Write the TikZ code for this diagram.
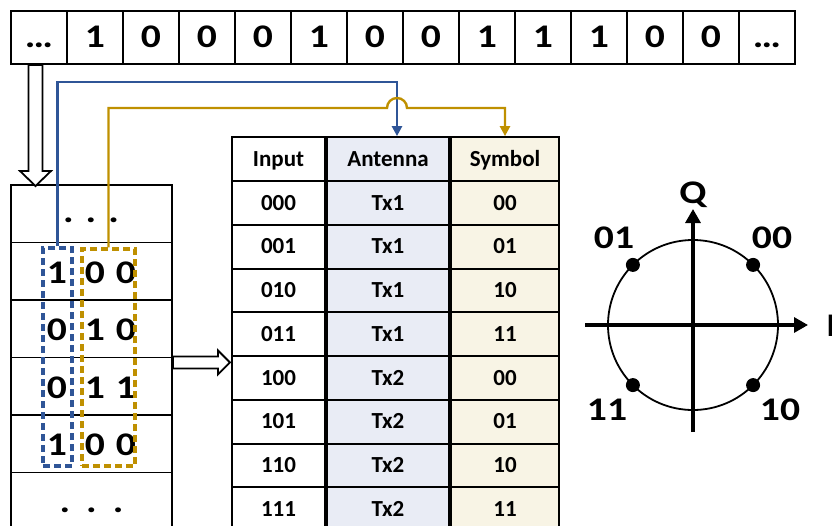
\documentclass[tikz,border=0pt]{standalone}
\usepackage{fontspec}
\setmainfont{Carlito}
\newfontfamily\widefont[FakeStretch=1.2]{Carlito}
\usepackage{tikz}
\usetikzlibrary{positioning,arrows.meta,calc}
\definecolor{antblue}{HTML}{2F5597}
\definecolor{symgold}{HTML}{BF9000}
\definecolor{antfill}{HTML}{E9ECF5}
\definecolor{symfill}{HTML}{F8F4E5}
\newcommand{\bigdigits}{\widefont\bfseries\fontsize{33}{35}\selectfont}

\begin{document}
\begin{tikzpicture}[x=1pt, y=-1pt,
  bit/.style={draw, line width=2pt, minimum width=56pt, minimum height=53pt, inner sep=0pt,
              font=\bigdigits, text height=20.8pt, text depth=0pt},
  row/.style={draw, line width=1.8pt, minimum width=161pt, inner sep=0pt},
  digit/.style={inner sep=0pt, font=\bigdigits, text height=20.8pt, text depth=0pt},
  sel/.style={draw, dash pattern=on 7pt off 4pt, line width=3.2pt, inner sep=0pt},
  cell/.style={draw, line width=2pt, minimum height=43.75pt, inner sep=0pt,
               font=\bfseries\fontsize{23}{25}\selectfont, text height=14.5pt, text depth=0pt},
  link/.style={line width=2.4pt, -{Triangle[length=10pt, width=10pt]}},
  hollow/.style={draw, fill=white, line width=1.8pt, line join=miter},
  axis/.style={line width=3.2pt, -{Triangle[length=14pt, width=15pt]}}]
\useasboundingbox (0,0) rectangle (832,525);

% bit stream
\foreach \v [count=\i from 0] in {…,1,0,0,0,1,0,0,1,1,1,0,0,…}
  \node[bit] (b\i) at ({39+56*\i},37.5) {\v};

% grouped bits
\node[row, minimum height=57.5pt] (s0) at (91.5,213.75) {};
\node[digit] (d0) at (91,212.5) {.\hspace{12pt}.\hspace{12pt}.};
\foreach \a/\b/\c [count=\k] in {1/0/0,0/1/0,0/1/1,1/0/0} {
  \node[row, minimum height=57.5pt] (s\k) at (91.5,{213.75+57.5*\k}) {};
  \node[digit] (a\k) at (57,{215.5+57.5*\k}) {\a};
  \node[digit] (p\k) at (95,{215.5+57.5*\k}) {\b};
  \node[digit] (q\k) at (126,{215.5+57.5*\k}) {\c};
}
\node[row, minimum height=75pt] (s5) at (91.5,510) {};
\node[digit] (d5) at (91.5,502.5) {.\hspace{16pt}.\hspace{16pt}.};
\node[sel, draw=antblue, minimum width=29pt, minimum height=218pt] (antsel) at (57.5,357) {};
\node[sel, draw=symgold, minimum width=53pt, minimum height=217pt] (symsel) at (108.5,357.5) {};

% mapping table
\node[cell, minimum width=93pt] (hIn) at (278.5,159) {Input};
\node[cell, minimum width=122pt, fill=antfill, right=0pt of hIn] (hAnt) {Antenna};
\node[cell, minimum width=108pt, fill=symfill, right=0pt of hAnt] (hSym) {Symbol};
\foreach \inp/\ant/\sym [count=\r] in {000/Tx1/00,001/Tx1/01,010/Tx1/10,011/Tx1/11,
                                       100/Tx2/00,101/Tx2/01,110/Tx2/10,111/Tx2/11} {
  \node[cell, minimum width=93pt] (in\r) at (278.5,{181+43.75*(\r-0.5)}) {\inp};
  \node[cell, minimum width=122pt, fill=antfill, right=0pt of in\r] (ant\r) {\ant};
  \node[cell, minimum width=108pt, fill=symfill, right=0pt of ant\r] (sym\r) {\sym};
}

% links
\coordinate (lane1) at (0,82);
\coordinate (lane2) at (0,108);
\coordinate (antin) at ([xshift=9pt]hAnt.north);
\coordinate (hump) at ([xshift=-10pt]antin |- lane2);
\draw[link, antblue] (antsel.north) |- (lane1 -| antin) -- (antin);
\draw[link, symgold] (symsel.north) |- (hump) arc[start angle=180, end angle=360, radius=10] -| (hSym.north);
\draw[hollow] ($(b0.south)+(-10.5,0)$) -- ++(0,106) -- ++(-8.5,0) -- ++(15.5,15)
  -- ++(15.5,-15) -- ++(-8.5,0) -- ++(0,-106) -- cycle;
\draw[hollow] ($(s2.south east)+(0,-2)$) -- ++(45,0) -- ++(0,-6) -- ++(12,12)
  -- ++(-12,12) -- ++(0,-6) -- ++(-45,0) -- cycle;

% constellation
\coordinate (o) at (693,325);
\draw[line width=1.8pt] (o) circle[radius=85];
\draw[axis] ($(o)+(-108,0)$) -- ($(o)+(115,0)$);
\draw[axis] ($(o)+(0,107)$) -- ($(o)+(0,-116)$);
\foreach \ang in {45,135,225,315}
  \fill ($(o)+(\ang:85)$) circle[radius=7];
\node[digit] (c00) at (772,238) {00};
\node[digit] (c01) at (614,238) {01};
\node[digit] (c11) at (607,410) {11};
\node[digit] (c10) at (780,410) {10};
\node[digit] (lq) at (693,193) {Q};
\node[digit, anchor=west] (li) at (826,326) {I};
\end{tikzpicture}
\end{document}
